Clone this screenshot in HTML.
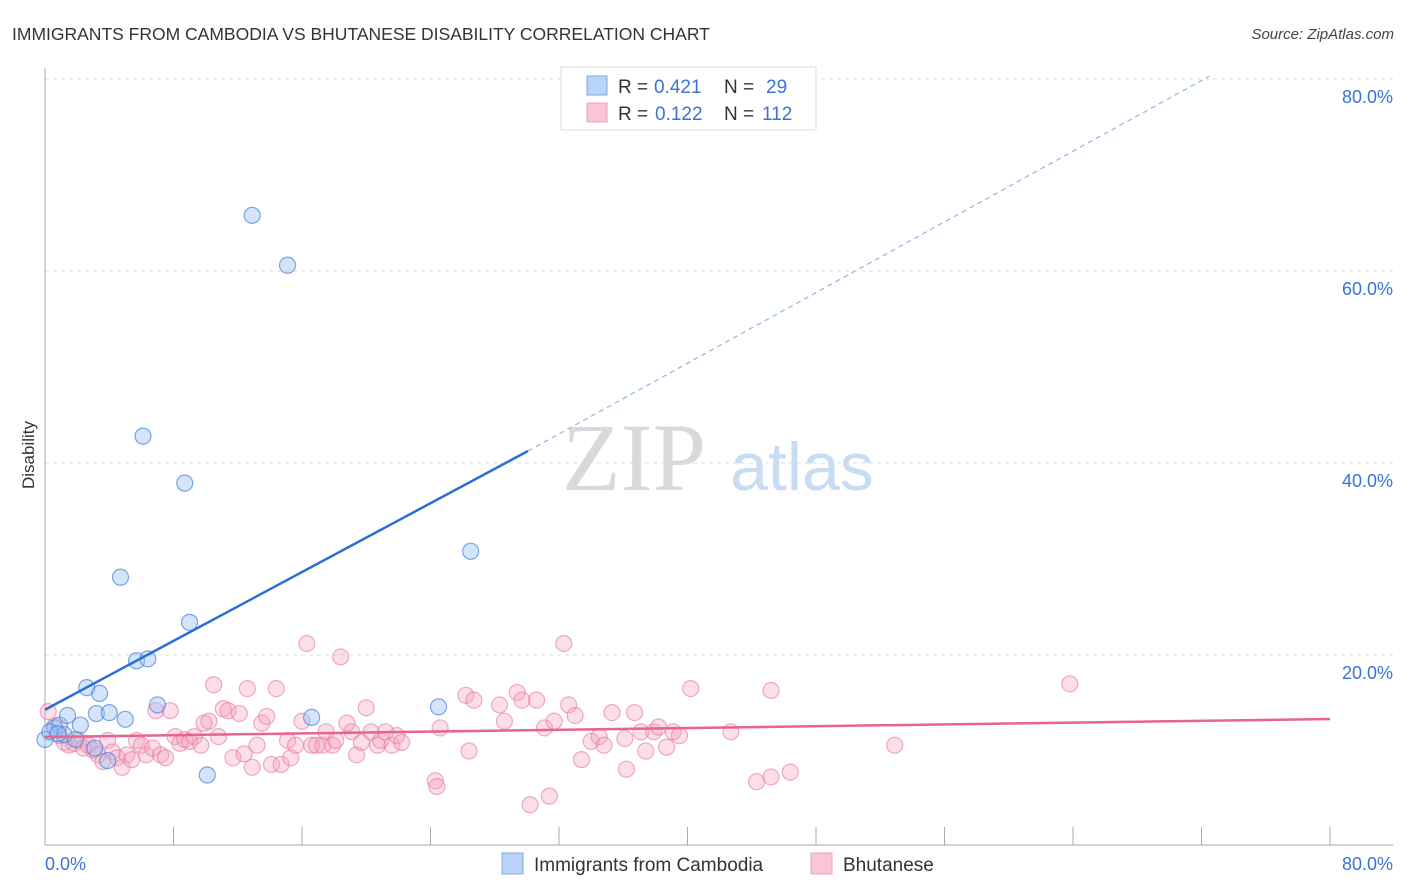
<!DOCTYPE html>
<html><head><meta charset="utf-8"><style>
body{margin:0;background:#fff;width:1406px;height:892px;overflow:hidden;font-family:"Liberation Sans",sans-serif}
svg{position:absolute;left:0;top:0}
</style></head><body>
<svg id="chart" width="1406" height="892" xmlns="http://www.w3.org/2000/svg">
<text x="12" y="40" font-size="17.5" fill="#333">IMMIGRANTS FROM CAMBODIA VS BHUTANESE DISABILITY CORRELATION CHART</text>
<text x="1394" y="39" font-size="15" fill="#444" font-style="italic" text-anchor="end">Source: ZipAtlas.com</text>
<g>
<text x="634" y="490" font-family="Liberation Serif,serif" font-size="96" fill="#d9d9d9" text-anchor="middle">ZIP</text>
<text x="802" y="490" font-size="68" fill="#c8dcf2" text-anchor="middle">atlas</text>
</g>
<text transform="translate(34,455) rotate(-90)" font-size="17" fill="#333" text-anchor="middle">Disability</text>
<g id="grid"></g><g id="marks"></g>
<g>
<rect x="561" y="67" width="255" height="63" fill="#fff" stroke="#ddd"/>
<rect x="587" y="76" width="20" height="19" fill="#b9d3f5" stroke="#7fa8e0"/>
<rect x="587" y="103" width="20" height="19" fill="#f9c6d6" stroke="#eba3bb"/>
<text y="93" font-size="19" fill="#333"><tspan x="618">R =</tspan><tspan x="654" fill="#3a72d8">0.421</tspan><tspan x="724">N =</tspan><tspan x="766" fill="#3a72d8">29</tspan></text>
<text y="120" font-size="19" fill="#333"><tspan x="618">R =</tspan><tspan x="655" fill="#3a72d8">0.122</tspan><tspan x="724">N =</tspan><tspan x="762" fill="#3a72d8">112</tspan></text>
</g>
<g>
<rect x="502" y="853" width="21" height="21" fill="#b9d3f5" stroke="#7fa8e0"/>
<text x="534" y="871" font-size="19" fill="#333">Immigrants from Cambodia</text>
<rect x="811" y="853" width="21" height="21" fill="#f9c6d6" stroke="#eba3bb"/>
<text x="843" y="871" font-size="19" fill="#333">Bhutanese</text>
</g>
</svg>
<script>
const yTicks=[20,40,60,80];
const xTickLabels=["0.0%","80.0%"];
const blueX=[0.0,0.6,0.9,1.2,1.4,1.9,2.2,2.6,3.2,3.4,4.0,3.1,3.9,4.7,5.0,5.7,6.1,6.4,7.0,8.7,9.0,10.1,12.9,15.1,16.6,24.5,26.5,0.3,0.8];
const blueY=[11.2,12.4,12.7,11.7,13.7,11.2,12.7,16.6,13.9,16.0,14.0,10.3,9.0,28.1,13.3,19.4,42.8,19.6,14.8,37.9,23.4,7.5,65.8,60.6,13.5,14.6,30.8,12.0,11.8];
const pinkX=[0.2,0.6,0.9,1.2,1.5,1.8,2.1,2.4,2.7,3.0,3.3,3.6,3.9,4.2,4.5,4.8,5.1,5.4,5.7,6.0,6.3,6.7,6.9,7.2,7.5,7.8,8.1,8.4,8.7,9.0,9.3,9.7,9.9,10.2,10.5,10.8,11.1,11.4,11.7,12.1,12.4,12.6,12.9,13.2,13.5,13.8,14.1,14.4,14.7,15.1,15.3,15.6,16.0,16.3,16.6,16.9,17.3,17.5,17.9,18.1,18.4,18.8,19.1,19.4,19.7,20.0,20.3,20.7,20.9,21.2,21.6,21.9,22.2,24.3,24.4,24.6,26.2,26.4,26.7,28.3,28.6,29.4,29.7,30.2,30.6,31.1,31.4,31.7,32.3,32.6,33.0,33.4,34.0,34.5,34.8,35.3,36.1,36.2,36.7,37.1,37.4,37.9,38.2,38.7,39.1,39.5,40.2,42.7,44.3,45.2,45.2,46.4,52.9,63.8];
const pinkY=[14.1,12.6,11.6,10.9,10.6,10.8,11.1,10.3,10.6,10.1,9.6,8.9,11.1,9.9,9.3,8.3,9.6,9.1,11.1,10.6,9.6,10.3,14.2,9.6,9.3,14.2,11.5,10.8,11.2,11.0,11.5,10.6,12.9,13.1,16.9,11.5,14.4,14.2,9.3,13.9,9.7,16.5,8.3,10.6,12.9,13.6,8.6,16.5,8.6,11.1,9.3,10.6,13.1,21.2,10.6,10.6,10.6,12.0,10.6,11.1,19.8,12.9,12.0,9.6,10.9,14.5,12.0,10.6,11.1,12.0,10.6,11.6,10.9,6.9,6.3,12.4,15.8,10.0,15.3,14.8,13.1,16.1,15.3,4.4,15.3,12.4,5.3,13.1,21.2,14.8,13.7,9.1,11.0,11.5,10.6,14.0,11.3,8.1,14.0,12.0,10.0,12.0,12.5,10.4,12.0,11.6,16.5,12.0,6.8,7.3,16.3,7.8,10.6,17.0];
const blueLine=[[0,14.3],[30.07,41.25]];
const blueDash=[[30.07,41.25],[72.5,80.3]];
const pinkLine=[[0,11.46],[80,13.33]];
const NS="http://www.w3.org/2000/svg";
const X=v=>45+v*1285/80, Y=v=>847-v*9.6;
const grid=document.getElementById('grid'), marks=document.getElementById('marks');
function mk(tag,attrs,parent){const e=document.createElementNS(NS,tag);for(const k in attrs)e.setAttribute(k,attrs[k]);parent.appendChild(e);return e;}
yTicks.forEach(t=>{
  const g=mk('line',{x1:45,x2:1393,y1:Y(t),y2:Y(t),stroke:'#ddd','stroke-dasharray':'4,4'},grid);
  
  
  const tx=mk('text',{x:1393,y:Y(t)+24,'font-size':18,fill:'#3a72d8','text-anchor':'end'},grid);
  tx.textContent=t.toFixed(1)+'%';
  
  
});
const ax=mk('line',{x1:45,x2:45,y1:68,y2:845,stroke:'#aaa'},grid);


const bx=mk('line',{x1:45,x2:1393,y1:845,y2:845,stroke:'#aaa'},grid);


for(let i=0;i<=10;i++){
  const tk=mk('line',{x1:X(i*8),x2:X(i*8),y1:827,y2:845,stroke:'#aaa'},grid);
  
  
}
const xl0=mk('text',{x:45,y:870,'font-size':18,fill:'#3a72d8'},grid);xl0.textContent=xTickLabels[0];


const xl1=mk('text',{x:1393,y:870,'font-size':18,fill:'#3a72d8','text-anchor':'end'},grid);xl1.textContent=xTickLabels[1];


pinkX.forEach((v,i)=>{
  const c=mk('circle',{cx:X(v),cy:Y(pinkY[i]),r:8,fill:'rgba(244,160,190,0.35)',stroke:'rgba(230,120,160,0.6)','stroke-width':1.2},marks);
  
  
});
blueX.forEach((v,i)=>{
  const c=mk('circle',{cx:X(v),cy:Y(blueY[i]),r:8,fill:'rgba(150,190,240,0.4)',stroke:'rgba(70,130,220,0.7)','stroke-width':1.2},marks);
  
  
});
const l1=mk('line',{x1:X(blueLine[0][0]),y1:Y(blueLine[0][1]),x2:X(blueLine[1][0]),y2:Y(blueLine[1][1]),stroke:'#2a6fd6','stroke-width':2.5},marks);


const l2=mk('line',{x1:X(blueDash[0][0]),y1:Y(blueDash[0][1]),x2:X(blueDash[1][0]),y2:Y(blueDash[1][1]),stroke:'#8fb4e8','stroke-width':1.2,'stroke-dasharray':'5,4'},marks);


const l3=mk('line',{x1:X(pinkLine[0][0]),y1:Y(pinkLine[0][1]),x2:X(pinkLine[1][0]),y2:Y(pinkLine[1][1]),stroke:'#e8638f','stroke-width':2.5},marks);


</script>
</body></html>
